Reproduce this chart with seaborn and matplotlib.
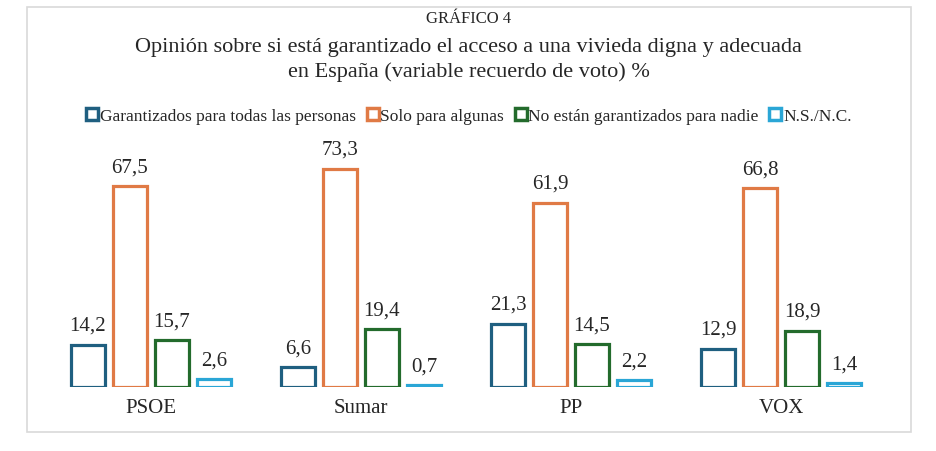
import pandas as pd
import matplotlib.pyplot as plt
import seaborn as sns
from matplotlib.lines import Line2D
from matplotlib.patches import Rectangle

partidos = ['PSOE', 'Sumar', 'PP', 'VOX']
respuestas = ['Garantizados para todas las personas', 'Solo para algunas',
              'No están garantizados para nadie', 'N.S./N.C.']
garantizados = [14.2, 6.6, 21.3, 12.9]
solo_algunas = [67.5, 73.3, 61.9, 66.8]
no_garantizados = [15.7, 19.4, 14.5, 18.9]
nsnc = [2.6, 0.7, 2.2, 1.4]
colores = ['#1F5F80', '#E07A45', '#236B2C', '#2AA6D6']

series = [garantizados, solo_algunas, no_garantizados, nsnc]
rows = []
for resp, vals in zip(respuestas, series):
    for p, v in zip(partidos, vals):
        rows.append({'partido': p, 'respuesta': resp, 'valor': v})
df = pd.DataFrame(rows)

sns.set_style('white')
plt.rcParams['font.family'] = ['Liberation Serif', 'DejaVu Serif']

fig = plt.figure(figsize=(9.37, 4.52), dpi=100)
ax = fig.add_axes([0.049, 0.1416, 0.8966, 0.527])

sns.barplot(data=df, x='partido', y='valor', hue='respuesta', order=partidos,
            hue_order=respuestas, palette=colores, fill=False, linewidth=2.3,
            gap=0.2, width=0.8, legend=False, ax=ax)

for cont in ax.containers:
    labels = [f"{b.get_height():.1f}".replace('.', ',') for b in cont]
    ax.bar_label(cont, labels=labels, padding=7, fontsize=15)

ax.set_xlim(-0.5, 3.5)
ax.set_ylim(0, 80)
ax.set_xlabel('')
ax.set_ylabel('')
ax.set_yticks([])
ax.tick_params(axis='x', length=0, labelsize=15, pad=8)
for s in ax.spines.values():
    s.set_visible(False)

fig.text(0.5, 0.958, 'GRÁFICO 4', ha='center', va='center', fontsize=12)
fig.text(0.5, 0.867, 'Opinión sobre si está garantizado el acceso a una vivieda digna y adecuada\n'
         'en España (variable recuerdo de voto) %', ha='center', va='center',
         fontsize=16, linespacing=1.35)

handles = [Line2D([], [], marker='s', linestyle='none', markersize=8,
                  markerfacecolor='white', markeredgecolor=c, markeredgewidth=2.5)
           for c in colores]
fig.legend(handles, respuestas, loc='center', bbox_to_anchor=(0.5, 0.742), ncol=4,
           frameon=False, fontsize=12.5, handletextpad=0.05, columnspacing=0.55,
           handlelength=0.8)

fig.patches.append(Rectangle((27 / 937, 19 / 452), 884 / 937, 425 / 452,
                             transform=fig.transFigure, fill=False,
                             edgecolor='#D9D9D9', linewidth=1.2))

fig.savefig('out.png', dpi=100)
